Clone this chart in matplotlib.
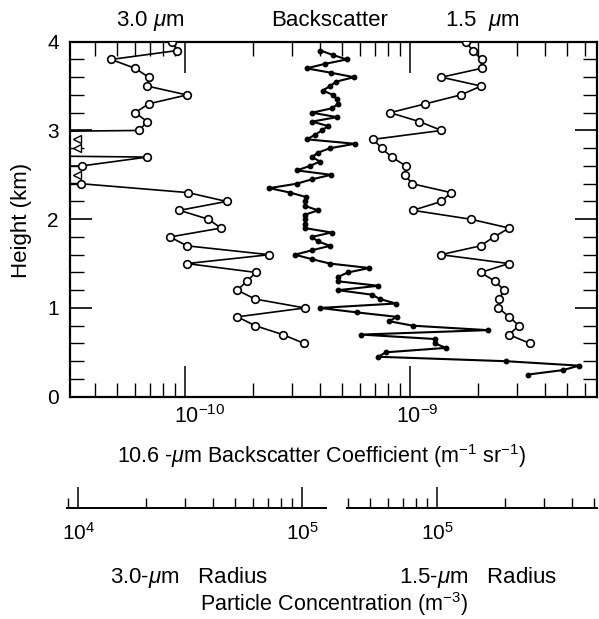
import numpy as np
import matplotlib; matplotlib.use("Agg")
import matplotlib.pyplot as plt
import matplotlib.transforms as mtransforms
from matplotlib.ticker import LogLocator, FixedLocator, MultipleLocator, NullFormatter

plt.rcParams['font.family'] = ['Liberation Sans', 'DejaVu Sans']
plt.rcParams['mathtext.fontset'] = 'custom'
plt.rcParams['mathtext.rm'] = 'Liberation Sans'
plt.rcParams['mathtext.it'] = 'Liberation Sans:italic'

# lidar profiles, 0.1 km steps (open circles)
h_prof = [4.0, 3.9, 3.8, 3.7, 3.6, 3.5, 3.4, 3.3, 3.2, 3.1, 3.0, 2.9, 2.8, 2.7, 2.6, 2.5, 2.4,
          2.3, 2.2, 2.1, 2.0, 1.9, 1.8, 1.7, 1.6, 1.5, 1.4, 1.3, 1.2, 1.1, 1.0, 0.9, 0.8, 0.7, 0.6]
# 3.0 um radius profile (x1e-10); None = below scale (drawn as triangles at axis)
b30 = [0.88, 0.92, 0.47, 0.60, 0.69, 0.68, 1.02, 0.69, 0.60, 0.68, 0.625, None, None, 0.68, 0.347,
       None, 0.344, 1.03, 1.53, 0.945, 1.27, 1.445, 0.858, 1.02, 2.37, 1.02, 2.07, 1.88, 1.71,
       2.05, 3.41, 1.71, 2.05, 2.72, 3.39]
# 1.5 um radius profile (x1e-9)
b15 = [1.77, 1.90, 2.08, 2.08, 1.38, 2.07, 1.68, 1.17, 0.815, 1.10, 1.38, 0.687, 0.748, 0.829,
       0.96, 0.95, 1.02, 1.52, 1.38, 1.03, 1.86, 2.76, 2.36, 2.06, 1.37, 2.75, 2.06, 2.39, 2.62,
       2.49, 2.47, 2.76, 3.05, 2.75, 3.41]

# 10.6 um backscatter, 0.05 km steps (filled dots), x1e-10
h_bs = [3.90, 3.85, 3.80, 3.75, 3.70, 3.65, 3.60, 3.55, 3.50, 3.45, 3.40, 3.35, 3.30, 3.25, 3.20,
        3.15, 3.10, 3.05, 3.00, 2.95, 2.90, 2.85, 2.80, 2.75, 2.70, 2.65, 2.60, 2.55, 2.50, 2.45,
        2.40, 2.35, 2.30, 2.25, 2.20, 2.15, 2.10, 2.05, 2.00, 1.95, 1.90, 1.85, 1.80, 1.75, 1.70,
        1.65, 1.60, 1.55, 1.50, 1.45, 1.40, 1.35, 1.30, 1.25, 1.20, 1.15, 1.10, 1.05, 1.00, 0.95,
        0.90, 0.85, 0.80, 0.75, 0.70, 0.65, 0.60, 0.55, 0.50, 0.45, 0.40, 0.35, 0.30, 0.25]
bs = [4.00, 4.55, 5.23, 4.19, 3.47, 4.46, 5.64, 4.69, 4.41, 4.10, 4.55, 4.74, 4.79, 4.50, 3.67,
      4.74, 3.67, 4.32, 4.06, 3.78, 3.48, 5.70, 4.41, 3.90, 3.67, 3.98, 3.59, 3.14, 4.46, 3.67,
      3.14, 2.37, 2.93, 3.45, 3.41, 3.41, 3.90, 3.41, 3.41, 3.41, 3.41, 4.48, 3.66, 3.90, 4.41,
      3.67, 3.08, 3.66, 4.41, 6.60, 5.30, 4.79, 4.79, 7.23, 4.79, 6.76, 7.36, 8.66, 3.98, 5.80,
      8.73, 8.09, 10.3, 22.2, 6.06, 12.9, 12.9, 14.45, 7.80, 7.23, 26.7, 56.5, 47.9, 33.6]

x_major = [1e-10, 1e-9]
x_major_labels = [r"$10^{-10}$", r"$10^{-9}$"]

below_scale = 1e-14  # off-scale values drawn to the axis edge

h_prof = np.array(h_prof)
v30 = np.array([np.nan if v is None else v * 1e-10 for v in b30])
v30_line = np.where(np.isnan(v30), below_scale, v30)
h30_off = h_prof[np.isnan(v30)]
v15 = np.array(b15) * 1e-9
vbs = np.array(bs) * 1e-10

fig = plt.figure(figsize=(5.99, 6.19), dpi=100)
W, H = 599.0, 619.0
ax = fig.add_axes([70 / W, 1 - 396.7 / H, (597 - 70) / W, (396.7 - 41.7) / H])

ax.plot(v30_line, h_prof, "-", color="black", lw=1.2, zorder=3)
ax.plot(v30, h_prof, "o", mfc="white", mec="black", ms=5.5, mew=1.2, zorder=4)
tr = mtransforms.blended_transform_factory(ax.transAxes, ax.transData)
ax.plot(np.full(len(h30_off), 0.013), h30_off, "<", mfc="white", mec="black", ms=6, mew=1.0,
        transform=tr, clip_on=False, zorder=4)
ax.plot(v15, h_prof, "-o", color="black", mfc="white", mec="black", lw=1.2, ms=5.5, mew=1.2, zorder=3)
ax.plot(vbs, h_bs, "-o", color="black", mfc="black", mec="black", lw=1.5, ms=3.2, zorder=3)

ax.set_xscale("log")
ax.set_xlim(10 ** -10.511, 10 ** -8.169)
ax.set_ylim(0, 4)
ax.xaxis.set_major_locator(FixedLocator(x_major))
ax.xaxis.set_minor_locator(LogLocator(base=10, subs=np.arange(2, 10)))
ax.xaxis.set_major_formatter(NullFormatter())
ax.xaxis.set_minor_formatter(NullFormatter())
# labels placed with the "10" roughly centred on the tick
xtr = mtransforms.blended_transform_factory(ax.transData, ax.transAxes)
for xv, lab, dx in zip(x_major, x_major_labels, [-8, -10]):
    ax.annotate(lab, (xv, 0), xycoords=xtr, xytext=(dx, -6), textcoords="offset points",
                ha="left", va="top", fontsize=15.5)
ax.yaxis.set_major_locator(FixedLocator([0, 1, 2, 3, 4]))
ax.yaxis.set_minor_locator(MultipleLocator(0.2))
ax.tick_params(axis="x", which="major", direction="in", length=22, width=1.1, top=True, bottom=True)
ax.tick_params(axis="x", which="minor", direction="in", length=10, width=1.0, top=True, bottom=True)
ax.tick_params(axis="y", which="major", direction="in", length=16, width=1.2, left=True,
               right=True, labelsize=15, pad=8)
ax.tick_params(axis="y", which="minor", direction="in", length=10, width=1.0, left=True, right=True)
for s in ax.spines.values():
    s.set_linewidth(1.6)

# particle concentration scales under the main axis
def conc_axis(x0, x1, lo, hi, majors, labels):
    a = fig.add_axes([x0 / W, 1 - 508 / H, (x1 - x0) / W, 0.0005])
    a.patch.set_visible(False)
    for k in ("top", "left", "right"):
        a.spines[k].set_visible(False)
    a.spines["bottom"].set_linewidth(1.4)
    a.set_xscale("log")
    a.set_xlim(lo, hi)
    a.set_yticks([])
    a.xaxis.set_major_locator(FixedLocator(majors))
    a.xaxis.set_minor_locator(LogLocator(base=10, subs=np.arange(2, 10)))
    a.xaxis.set_minor_formatter(NullFormatter())
    a.set_xticklabels(labels)
    a.tick_params(axis="x", which="major", direction="in", length=15, width=1.1, labelsize=15, pad=10)
    a.tick_params(axis="x", which="minor", direction="in", length=7.5, width=1.0)
    return a

conc_axis(67, 326, 10 ** 3.949, 10 ** 5.105, [1e4, 1e5], [r"$10^4$", r"$10^5$"])
conc_axis(347, 597, 10 ** 4.597, 10 ** 5.714, [1e5], [r"$10^5$"])

fs = 16
fig.text(150 / W, 1 - 21 / H, r"3.0 $\mu$m", ha="center", va="center", fontsize=fs)
fig.text(330 / W, 1 - 21 / H, "Backscatter", ha="center", va="center", fontsize=fs)
fig.text(482 / W, 1 - 21 / H, r"1.5  $\mu$m", ha="center", va="center", fontsize=fs)
fig.text(22 / W, 1 - 220 / H, "Height (km)", ha="center", va="center", rotation=90, fontsize=fs)
fig.text(322 / W, 1 - 456 / H, r"10.6 -$\mu$m Backscatter Coefficient (m$^{-1}$ sr$^{-1}$)",
         ha="center", va="center", fontsize=15.5)
fig.text(189 / W, 1 - 577 / H, r"3.0-$\mu$m   Radius", ha="center", va="center", fontsize=fs)
fig.text(478 / W, 1 - 577 / H, r"1.5-$\mu$m   Radius", ha="center", va="center", fontsize=fs)
fig.text(334 / W, 1 - 604 / H, r"Particle Concentration (m$^{-3}$)", ha="center", va="center",
         fontsize=15.5)

fig.savefig("out.png", dpi=100)
